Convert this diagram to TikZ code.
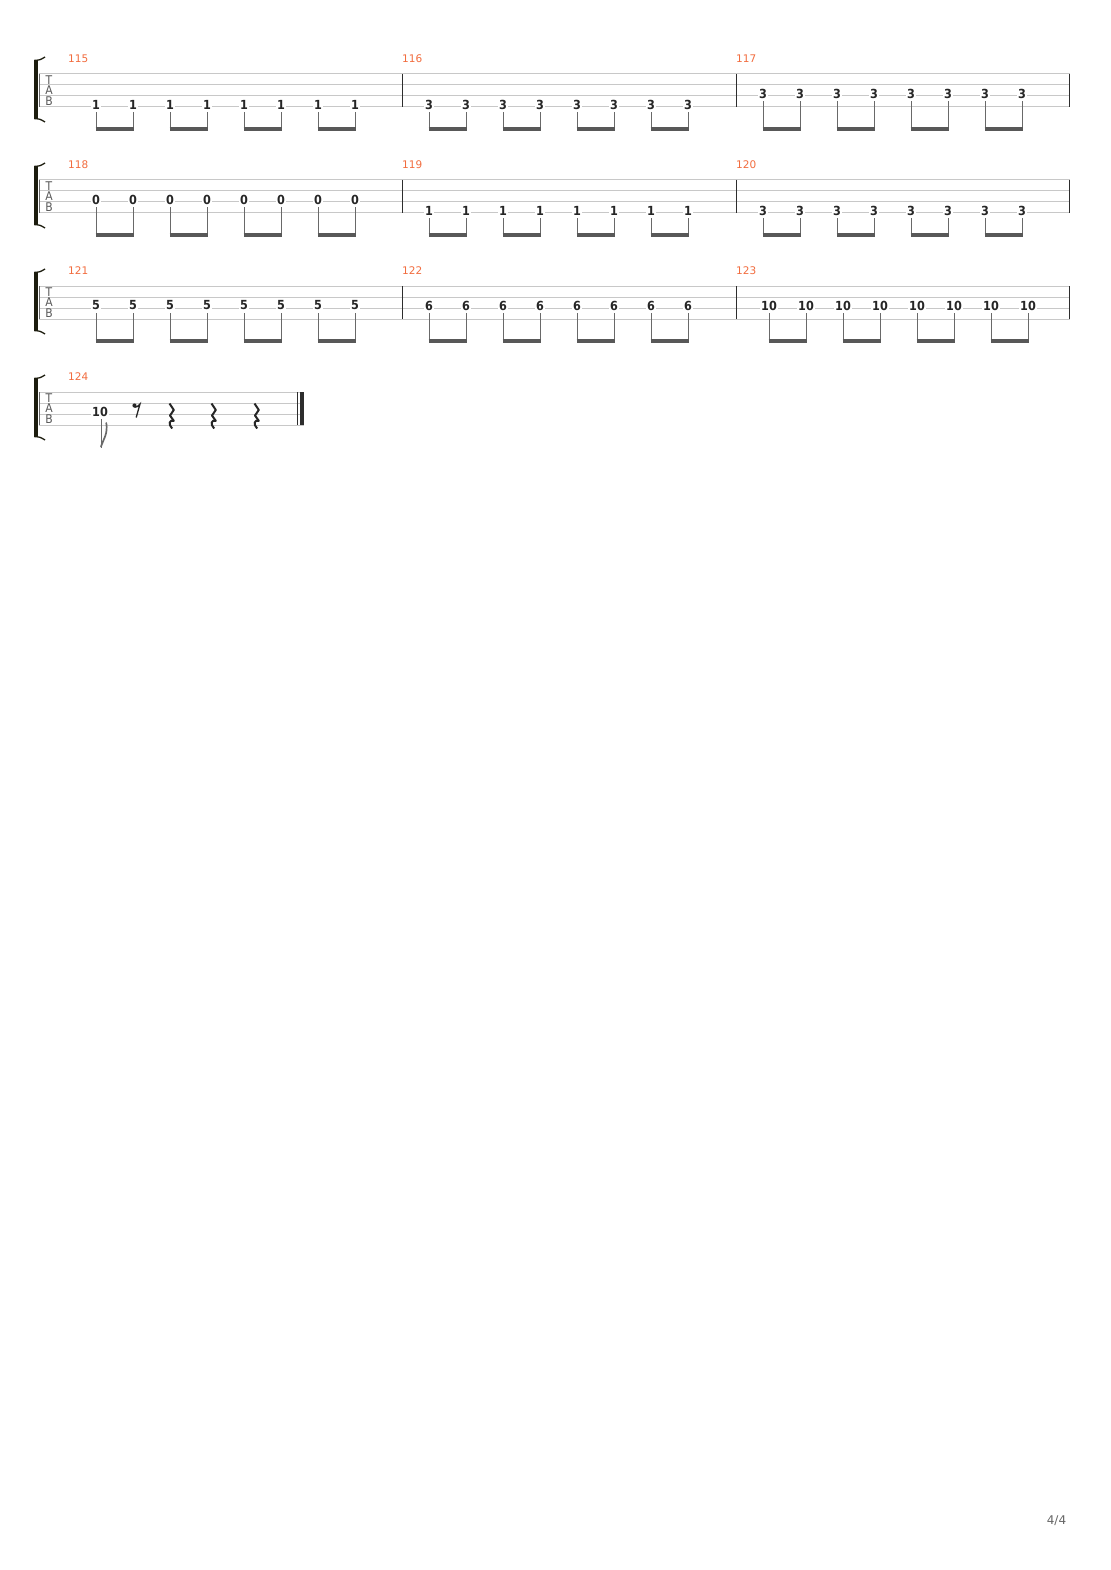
\documentclass[tikz,border=0pt]{standalone}
\usepackage{fontspec}
\setmainfont{DejaVu Sans}
\newfontfamily\fretfont{DejaVu Sans Condensed}
\usetikzlibrary{positioning}

\definecolor{staffgray}{RGB}{200,200,200}
\definecolor{barcol}{RGB}{45,45,45}
\definecolor{numorange}{RGB}{242,108,62}
\definecolor{fretcol}{RGB}{38,38,38}
\definecolor{stemcol}{RGB}{105,105,105}
\definecolor{beamcol}{RGB}{88,88,88}
\definecolor{bracketcol}{RGB}{28,28,14}

\tikzset{
  fret/.style={fill=white, inner xsep=1.2pt, inner ysep=0.6pt, text=fretcol,
    font=\fretfont\bfseries\fontsize{12.5}{12.5}\selectfont},
  barnum/.style={anchor=west, inner sep=0pt, text=numorange,
    font=\fontsize{10.5}{10.5}\selectfont},
  tabletter/.style={inner sep=0pt, text=black!65,
    font=\fretfont\fontsize{12}{12}\selectfont},
  staffline/.style={draw=staffgray, line width=1pt},
  barline/.style={draw=barcol, line width=1pt},
  stemline/.style={draw=stemcol, line width=1pt},
  beamline/.style={draw=beamcol, line width=3.5pt},
  restline/.style={draw=fretcol, line width=2pt, line join=round},
}

\begin{document}
\begin{tikzpicture}[x=1pt, y=-1pt]
  \fill[white] (0,0) rectangle (1110,1570);
  \useasboundingbox (0,0) rectangle (1110,1570);

  % systems: staff lines, bracket, clef
  \foreach \k/\lone/\xend in {1/74/1070, 2/180/1070, 3/286/1070, 4/392/304} {
    \foreach \s in {0,...,3}
      \draw[staffline] (39, \lone+\s*11) -- (\xend, \lone+\s*11);
    \draw[draw=black!60, line width=0.8pt] (39, \lone) -- (39, \lone+33);
    \fill[bracketcol] (34, \lone-14) rectangle (37.5, \lone+45);
    \draw[bracketcol, line width=1.3pt] (34.5, \lone-13.6) .. controls (40, \lone-14) .. (45, \lone-17);
    \draw[bracketcol, line width=1.3pt] (34.5, \lone+44.6) .. controls (40, \lone+45) .. (45, \lone+48);
    \node[tabletter] (T\k) at (49, \lone+6) {T};
    \node[tabletter] (A\k) at (49, \lone+16.5) {A};
    \node[tabletter] (B\k) at (49, \lone+27) {B};
  }

  % barlines
  \foreach \lone in {74, 180, 286} {
    \foreach \x in {402, 736, 1069.5}
      \draw[barline] (\x, \lone) -- (\x, \lone+33);
  }
  \draw[barline] (297, 392) -- (297, 425);
  \fill[barcol] (300, 392) rectangle (304, 425);

  % measures with eight beamed eighths
  \foreach \m/\xnum/\x/\f/\s/\lone in {
      115/68/96/1/4/74, 116/402/429/3/4/74, 117/736/763/3/3/74,
      118/68/96/0/3/180, 119/402/429/1/4/180, 120/736/763/3/4/180,
      121/68/96/5/3/286, 122/402/429/6/3/286, 123/736/769/10/3/286} {
    \node[barnum] (mn\m) at (\xnum, \lone-15.7) {\m};
    \foreach \i in {0,...,7} {
      \node[fret] (n\m-\i) at ({\x+\i*37}, {\lone+(\s-1)*11-2.5}) {\f};
      \coordinate (s\m-\i) at ({\x+\i*37}, \lone+55);
      \draw[stemline] ([yshift=-2.3pt]n\m-\i.south) -- (s\m-\i);
    }
    \foreach \i [evaluate=\i as \j using int(\i+1)] in {0,2,4,6}
      \draw[beamline] ([xshift=-0.5pt]s\m-\i) -- ([xshift=0.5pt]s\m-\j);
  }

  % last measure
  \node[barnum] (mn124) at (68, 376.3) {124};
  \node[fret] (n124) at (100, 411.5) {10};
  \coordinate (f124) at (101, 448.3);
  \draw[stemline] ([xshift=1pt, yshift=-2.3pt]n124.south) -- (f124);
  \draw[stemcol, line width=1.7pt, line cap=round] (101, 446.5) .. controls (103.5, 439)
    and (108, 434) .. (106.3, 423);
  % eighth rest
  \fill[fretcol] (134.5, 405.5) circle (2.1);
  \draw[fretcol, line width=1.3pt] (134.5, 407.3) .. controls (137, 407) .. (140, 404)
    -- (136.2, 417.5);
  % quarter rests
  \foreach \x in {171, 213, 256} {
    \draw[restline] (\x-1.5, 403.5) -- (\x+2.8, 410) -- (\x-1, 415.5) -- (\x+2.8, 420.8)
      .. controls (\x-2, 419.5) and (\x-2.8, 424.5) .. (\x+1.2, 428.5);
  }

  % page number
  \node[inner sep=0pt, text=black!60, font=\fontsize{12}{12}\selectfont] (page) at (1056.5, 1520.5) {4/4};
\end{tikzpicture}
\end{document}
